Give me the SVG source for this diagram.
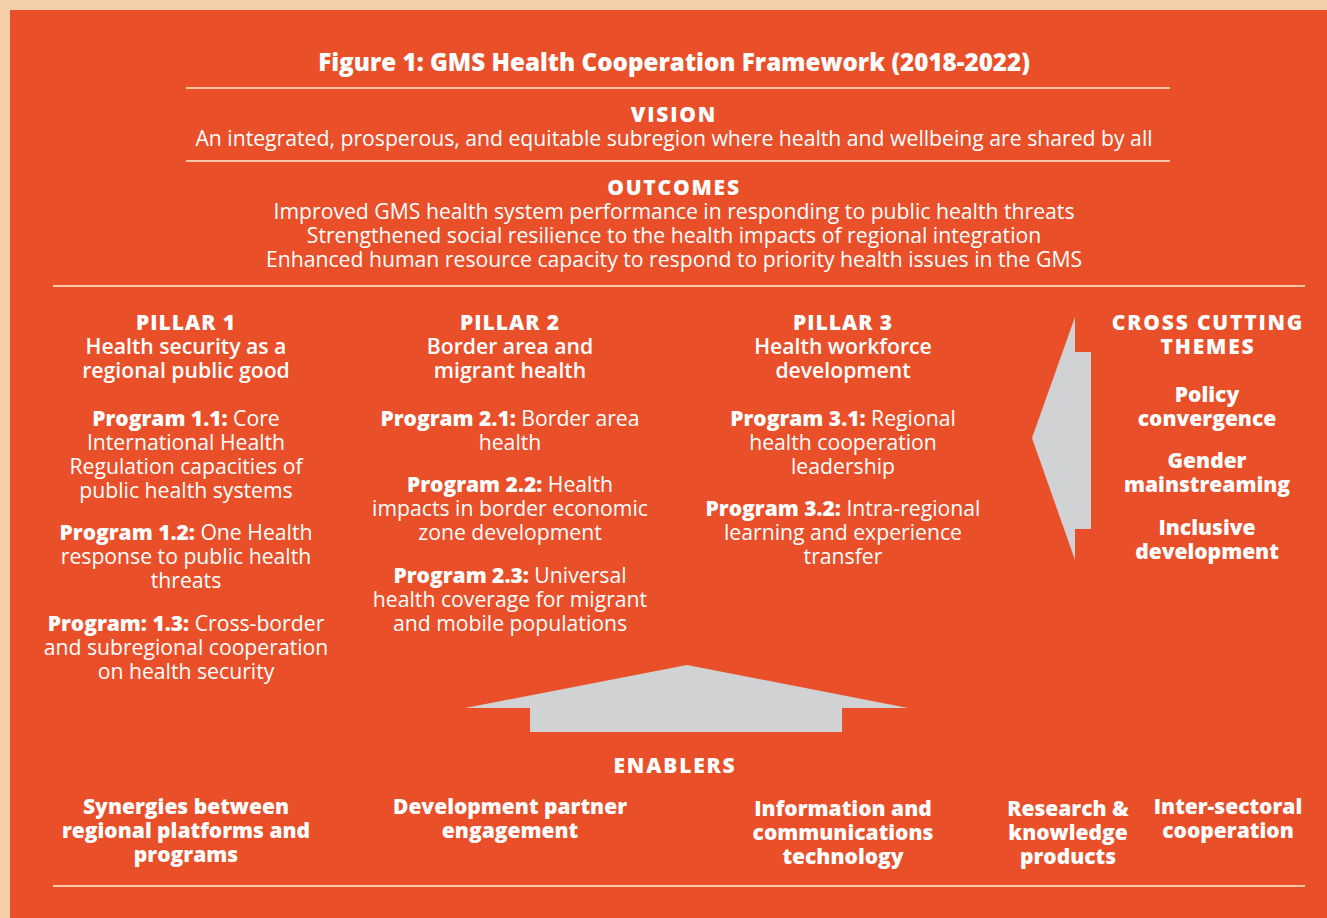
<svg xmlns="http://www.w3.org/2000/svg" width="1327" height="918" viewBox="0 0 1327 918">
<style>
text{font-family:"Open Sans","Liberation Sans",sans-serif;fill:#fff;text-anchor:middle;font-size:21.2px}
.b{font-weight:600}
.h{font-weight:800;font-size:21px}
.cap{letter-spacing:1.8px}
.pil{letter-spacing:1px}
.rule{stroke:#F9C6A6;stroke-width:2}
.arrow{fill:#D1D2D4}
</style>
<rect x="0" y="0" width="1327" height="918" fill="#F5CFA8"/>
<rect x="10" y="10" width="1317" height="908" fill="#E9502A"/>
<g id="rules">
<line class="rule" x1="186" y1="88" x2="1170" y2="88"/>
<line class="rule" x1="186" y1="161" x2="1170" y2="161"/>
<line class="rule" x1="53" y1="286" x2="1305" y2="286"/>
<line class="rule" x1="53" y1="886" x2="1305" y2="886"/>
</g>
<g id="title"><text class="h" x="674" y="71" style="font-size:24.2px">Figure 1: GMS Health Cooperation Framework (2018-2022)</text></g>
<g id="vision">
<text class="h cap" x="674" y="122">VISION</text>
<text x="674" y="146">An integrated, prosperous, and equitable subregion where health and wellbeing are shared by all</text>
</g>
<g id="outcomes">
<text class="h cap" x="674" y="195">OUTCOMES</text>
<text x="674" y="219">Improved GMS health system performance in responding to public health threats</text>
<text x="674" y="243">Strengthened social resilience to the health impacts of regional integration</text>
<text x="674" y="267">Enhanced human resource capacity to respond to priority health issues in the GMS</text>
</g>
<g id="pillar1">
<text class="h pil" x="186" y="330">PILLAR 1</text>
<text class="b" x="186" y="354">Health security as a</text>
<text class="b" x="186" y="378">regional public good</text>
<text x="186" y="426"><tspan class="h">Program 1.1:</tspan> Core</text>
<text x="186" y="450">International Health</text>
<text x="186" y="474">Regulation capacities of</text>
<text x="186" y="498">public health systems</text>
<text x="186" y="540"><tspan class="h">Program 1.2:</tspan> One Health</text>
<text x="186" y="564">response to public health</text>
<text x="186" y="588">threats</text>
<text x="186" y="631"><tspan class="h">Program: 1.3:</tspan> Cross-border</text>
<text x="186" y="655">and subregional cooperation</text>
<text x="186" y="679">on health security</text>
</g>
<g id="pillar2">
<text class="h pil" x="510" y="330">PILLAR 2</text>
<text class="b" x="510" y="354">Border area and</text>
<text class="b" x="510" y="378">migrant health</text>
<text x="510" y="426"><tspan class="h">Program 2.1:</tspan> Border area</text>
<text x="510" y="450">health</text>
<text x="510" y="492"><tspan class="h">Program 2.2:</tspan> Health</text>
<text x="510" y="516">impacts in border economic</text>
<text x="510" y="540">zone development</text>
<text x="510" y="583"><tspan class="h">Program 2.3:</tspan> Universal</text>
<text x="510" y="607">health coverage for migrant</text>
<text x="510" y="631">and mobile populations</text>
</g>
<g id="pillar3">
<text class="h pil" x="843" y="330">PILLAR 3</text>
<text class="b" x="843" y="354">Health workforce</text>
<text class="b" x="843" y="378">development</text>
<text x="843" y="426"><tspan class="h">Program 3.1:</tspan> Regional</text>
<text x="843" y="450">health cooperation</text>
<text x="843" y="474">leadership</text>
<text x="843" y="516"><tspan class="h">Program 3.2:</tspan> Intra-regional</text>
<text x="843" y="540">learning and experience</text>
<text x="843" y="564">transfer</text>
</g>
<g id="crosscutting">
<text class="h cap" x="1208" y="330">CROSS CUTTING</text>
<text class="h cap" x="1208" y="354">THEMES</text>
<text class="h" x="1207" y="402">Policy</text>
<text class="h" x="1207" y="426">convergence</text>
<text class="h" x="1207" y="468">Gender</text>
<text class="h" x="1207" y="492">mainstreaming</text>
<text class="h" x="1207" y="535">Inclusive</text>
<text class="h" x="1207" y="559">development</text>
</g>
<g id="connectors">
<polygon class="arrow" points="1032,438 1075,317 1075,352 1091,352 1091,529 1075,529 1075,560"/>
<polygon class="arrow" points="687,665 908,708 842,708 842,732 530,732 530,708 465,708"/>
</g>
<g id="enablers">
<text class="h cap" x="675" y="773">ENABLERS</text>
<text class="h" x="186" y="814">Synergies between</text>
<text class="h" x="186" y="838">regional platforms and</text>
<text class="h" x="186" y="862">programs</text>
<text class="h" x="510" y="814">Development partner</text>
<text class="h" x="510" y="838">engagement</text>
<text class="h" x="843" y="816">Information and</text>
<text class="h" x="843" y="840">communications</text>
<text class="h" x="843" y="864">technology</text>
<text class="h" x="1068" y="816">Research &amp;</text>
<text class="h" x="1068" y="840">knowledge</text>
<text class="h" x="1068" y="864">products</text>
<text class="h" x="1228" y="814">Inter-sectoral</text>
<text class="h" x="1228" y="838">cooperation</text>
</g>
</svg>
